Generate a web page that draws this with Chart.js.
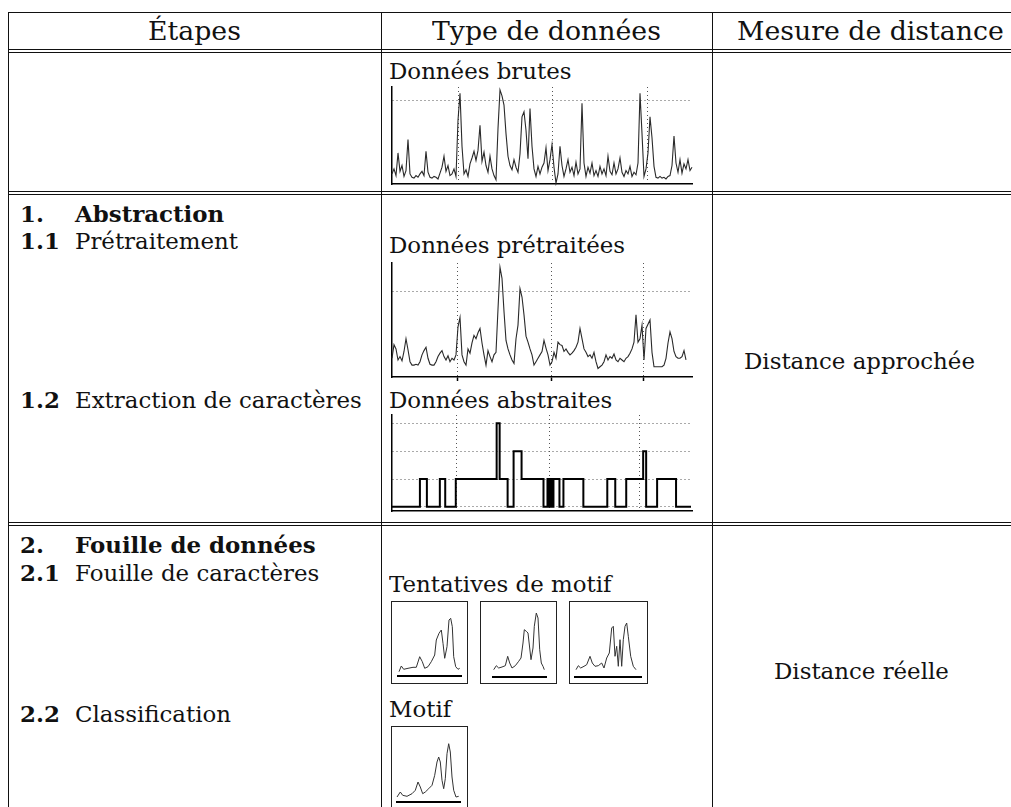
<!DOCTYPE html>
<html>
<head>
<meta charset="utf-8">
<script src="https://cdn.jsdelivr.net/npm/chart.js@4/dist/chart.umd.min.js"></script>
<style>
html, body { margin: 0; padding: 0; background: #fff; }
#page { position: relative; width: 1011px; height: 807px; overflow: hidden; background: #fff; }
.ln { position: absolute; background: #111; }
.t { position: absolute; white-space: nowrap; font-family: "DejaVu Serif", "Liberation Serif", serif;
     font-size: 23px; line-height: 20px; color: #111; transform-origin: 0 0; }
.b { font-weight: bold; }
.box { position: absolute; border: 1.5px solid #222; box-sizing: border-box; }
canvas { position: absolute; }
</style>
</head>
<body>
<div id="page"></div>
<script>
// raw series, one value every 2px of the strip
const rawValues = [.12,.18,.10,.37,.15,.22,.09,.16,.53,.12,
  .08,.07,.10,.08,.12,.15,.10,.39,.14,.08,
  .07,.09,.08,.06,.13,.20,.33,.15,.22,.10,
  .12,.18,.09,.76,1.08,.45,.12,.17,.09,.24,
  .31,.39,.28,.40,.70,.27,.38,.22,.14,.33,
  .18,.10,.05,.66,1.12,1.05,.94,.60,.33,.22,
  .17,.29,.20,.14,.36,.80,.86,.64,.30,.90,
  .45,.18,.09,.21,.12,.20,.25,.43,.16,.29,
  .47,.20,.01,.12,.45,.22,.09,.18,.29,.14,
  .20,.10,.26,.12,.18,.96,.25,.09,.20,.13,
  .25,.10,.16,.09,.21,.12,.18,.10,.33,.15,
  .11,.25,.12,.18,.31,.14,.09,.16,.12,.21,
  .09,.14,.11,.25,1.08,.60,.09,.18,.37,.80,
  .55,.21,.08,.07,.09,.07,.08,.06,.09,.10,
  .22,.57,.25,.14,.29,.13,.24,.18,.29,.16,
  .20];
const rawGrid = [33.3, 80.3, 127.5];

const prepValues = [.22,.38,.33,.20,.24,.19,.30,.45,.32,.18,
  .14,.14,.15,.14,.18,.26,.31,.35,.22,.15,
  .14,.14,.18,.24,.28,.31,.24,.20,.25,.18,
  .22,.20,.26,.59,.70,.26,.18,.14,.33,.28,
  .40,.49,.45,.52,.57,.40,.26,.14,.31,.24,
  .18,.26,.29,.80,1.29,1.16,.77,.43,.33,.26,
  .20,.16,.45,.61,1.04,.94,.73,.48,.41,.33,
  .26,.14,.18,.22,.26,.30,.43,.34,.26,.14,
  .18,.29,.22,.41,.38,.37,.30,.33,.29,.26,
  .28,.31,.35,.41,.57,.45,.33,.29,.24,.26,
  .22,.29,.18,.10,.12,.14,.18,.26,.20,.24,
  .22,.27,.20,.18,.22,.20,.18,.22,.24,.28,
  .33,.41,.73,.41,.45,.61,.20,.57,.62,.67,
  .29,.12,.12,.12,.12,.12,.14,.22,.40,.53,
  .45,.30,.24,.22,.22,.24,.31,.20];
const prepGrid = [32.8, 79.5, 125.8];

// abstracted series: level starting at each breakpoint
const abstractX = [0,14,17.5,24,26.7,32,52.5,54,58,61,
  65,76,78,78.7,79.3,80,81,84,86,96,
  108,112,117.5,126,127.5,133,142.5,150];
const abstractLevels = [0,1,0,1,0,1,3,1,0,2,
  1,0,1,0,1,0,1,0,1,0,
  1,0,1,2,0,1,0,0];
const abstractGrid = [32.2, 78.8, 124.2];
const levelGrid = [0, 1, 2, 3];

// candidate motifs and the final motif, [t, value]
const tentative1 = [[1,4.3],[3.3,10],[5.7,6.7],[10,7.7],[15,8.7],[18.3,8.7],[21.7,19.3],[24.3,14.3],
  [26.7,7.7],[30,9.3],[33.3,14.3],[36.7,21],[38.3,36],[41,42.7],[43.3,46],[45,32.7],[46.7,17.7],
  [49,29.3],[51,56],[52.7,57.7],[54.3,49.3],[55.7,19.3],[57.7,9.3],[60,6.7],[61.7,7.7]];
const tentative2 = [[0.7,7.3],[3.3,11.3],[5.7,9],[9,10],[12.3,11.3],[14.7,20.7],[16.7,14],[19,9],
  [22.3,11.3],[25.7,15.7],[28,19],[30,34],[31.3,47.3],[33.3,45.7],[35,44],[36.7,29],[38,17.3],
  [40,29],[41.3,50.7],[43.3,64],[45,59],[46.7,27.3],[48.3,14],[50,10.7],[51.3,7.3]];
const tentative3 = [[1,7.3],[3.3,11.3],[5.7,9],[9,10.7],[11.7,12.3],[15,20.7],[17.3,14],[20,10.7],
  [23.3,11.3],[26.7,14],[29,9],[31.7,19],[34.3,24],[36.7,49],[38.3,50.7],[40,20.7],[41.7,30.7],
  [43.3,10.7],[45,37.3],[46.7,10.7],[48.3,37.3],[50,50.7],[51.7,54],[53.3,40.7],[55.7,20.7],
  [58.3,10.7],[61,7.3]];
const motif = [[0,5],[3.3,10],[5.7,6.7],[10,5.7],[15,8.3],[18.3,11.7],[21,20],[23.3,15],[25.7,8.3],
  [28.3,10],[31.7,13.3],[35,16.7],[37.7,26.7],[40,40],[41.7,45],[43.3,40],[45,21.7],[46.7,13.3],
  [48.3,23.3],[50,48.3],[51.7,58.3],[53.3,50],[55,25],[56.7,11.7],[59,5],[61.7,5.7]];

const page = document.getElementById('page');

function line(x, y, w, h) {
  const d = document.createElement('div');
  d.className = 'ln';
  d.style.left = x + 'px'; d.style.top = y + 'px';
  d.style.width = w + 'px'; d.style.height = h + 'px';
  page.appendChild(d);
}

function box(x, y, w, h) {
  const d = document.createElement('div');
  d.className = 'box';
  d.style.left = x + 'px'; d.style.top = y + 'px';
  d.style.width = w + 'px'; d.style.height = h + 'px';
  page.appendChild(d);
}

// texts: all share one horizontal squeeze, taken from "Données prétraitées" (236px wide)
const texts = [];
function put(txt, x, base, cls, align) {
  const d = document.createElement('div');
  d.className = 't' + (cls ? ' ' + cls : '');
  d.textContent = txt;
  page.appendChild(d);
  texts.push({ d: d, x: x, base: base, align: align });
  return d;
}

// table rules
line(8, 12, 1003, 1);
line(8, 49, 1003, 1); line(8, 52, 1003, 1);
line(8, 191, 1003, 1); line(8, 194, 1003, 1);
line(8, 522, 1003, 1); line(8, 525, 1003, 1);
line(8, 12, 1, 795);
line(381, 12, 1, 795);
line(712, 12, 1, 795);

const h1 = put('Étapes', 194.5, 40, 'hd', 'c');
const h2 = put('Type de données', 546.5, 40, 'hd', 'c');
const h3 = put('Mesure de distance', 737, 40, 'hd');
put('Données brutes', 389, 79);
put('1.', 20, 222, 'b'); put('Abstraction', 75, 222, 'b');
put('1.1', 20, 249, 'b'); put('Prétraitement', 75, 249);
const refText = put('Données prétraitées', 389, 253);
put('1.2', 20, 408, 'b'); put('Extraction de caractères', 75, 408);
put('Données abstraites', 389, 408);
put('Distance approchée', 859.5, 369, '', 'c');
put('2.', 20, 553, 'b'); put('Fouille de données', 75, 553, 'b');
put('2.1', 20, 581, 'b'); put('Fouille de caractères', 75, 581);
put('Tentatives de motif', 389, 592);
put('2.2', 20, 722, 'b'); put('Classification', 75, 722);
put('Motif', 389, 717);
put('Distance réelle', 861, 679, '', 'c');

// header a bit larger: "Type de données" spans 229px
const sBody = 236 / refText.getBoundingClientRect().width;
const hdSize = 23 * 229 / (h2.getBoundingClientRect().width * sBody);
[h1, h2, h3].forEach(d => { d.style.fontSize = hdSize.toFixed(2) + 'px'; });
texts.forEach(o => {
  const fs = parseFloat(getComputedStyle(o.d).fontSize);
  const w = o.d.getBoundingClientRect().width * sBody;
  const top = o.base - ((20 - 1.164 * fs) / 2 + 0.928 * fs);
  o.d.style.top = top.toFixed(1) + 'px';
  o.d.style.left = (o.align === 'c' ? o.x - w / 2 : o.x).toFixed(1) + 'px';
  o.d.style.transform = 'scaleX(' + sBody.toFixed(3) + ')';
});

// scale helper: grid lines only where asked, dotted
function axis(min, max, grid, showGrid, bw, tick) {
  return {
    type: 'linear', min: min, max: max,
    ticks: { display: false },
    afterBuildTicks: s => { s.ticks = grid.map(v => ({ value: v })); },
    grid: { display: showGrid, drawTicks: !!tick, tickLength: tick || 0, tickColor: '#000', tickWidth: 1.5,
            tickBorderDash: [], color: '#555', lineWidth: 1 },
    border: { display: bw > 0, color: '#000', width: bw || 1, dash: [1, 3] }
  };
}

function plot(x, y, w, h, datasets, xs, ys, extra) {
  extra = extra || 0;
  const c = document.createElement('canvas');
  c.width = w + 4; c.height = h + 4 + extra;
  c.style.left = (x - 3) + 'px'; c.style.top = (y - 1) + 'px';
  page.appendChild(c);
  return new Chart(c, {
    type: 'line',
    data: { datasets: datasets },
    options: {
      responsive: false, maintainAspectRatio: false, animation: false, events: [],
      layout: { padding: { left: 3, top: 1, right: 1, bottom: 3 } },
      plugins: { legend: { display: false }, tooltip: { enabled: false } },
      scales: { x: xs, y: ys }
    }
  });
}

function series(pts, color, width, stepped) {
  return { data: pts, borderColor: color, borderWidth: width, pointRadius: 0, tension: 0,
           stepped: !!stepped, fill: false, clip: 2 };
}

// Données brutes
plot(392, 87, 300, 97,
  [series(rawValues.map((v, i) => ({ x: i, y: v })), '#2a2a2a', 1.1)],
  axis(0, 150, rawGrid, true, 1.5), axis(0, 1.155, [1], true, 1.5));

// Données prétraitées
plot(392, 263, 300, 114,
  [series(prepValues.map((v, i) => ({ x: i, y: v })), '#2a2a2a', 1.1)],
  axis(0, 150, prepGrid, true, 1.5, 4), axis(0, 1.34, [1], true, 1.5), 4);

// Données abstraites
plot(392, 415, 300, 96,
  [series(abstractX.map((v, i) => ({ x: v, y: abstractLevels[i] })), '#000', 2, true)],
  axis(0, 150.5, abstractGrid, true, 1.5), axis(-0.15, 3.3, levelGrid, true, 1.5));

// motif thumbnails
function thumb(x, y, w, pts) {
  plot(x, y, w, 67,
    [series(pts.map(p => ({ x: p[0], y: p[1] })), '#333', 1)],
    axis(0, w, [0, w], false, 2), Object.assign(axis(0, 67, [0], false, 0), { display: false }));
}

box(391, 601, 77, 83);
box(480, 601, 77, 83);
box(569, 601, 79, 83);
box(391, 726, 77, 100);
thumb(398, 609, 63, tentative1);
thumb(493, 610, 53, tentative2);
thumb(575, 610, 66, tentative3);
thumb(397, 735, 63, motif);
</script>
</body>
</html>
